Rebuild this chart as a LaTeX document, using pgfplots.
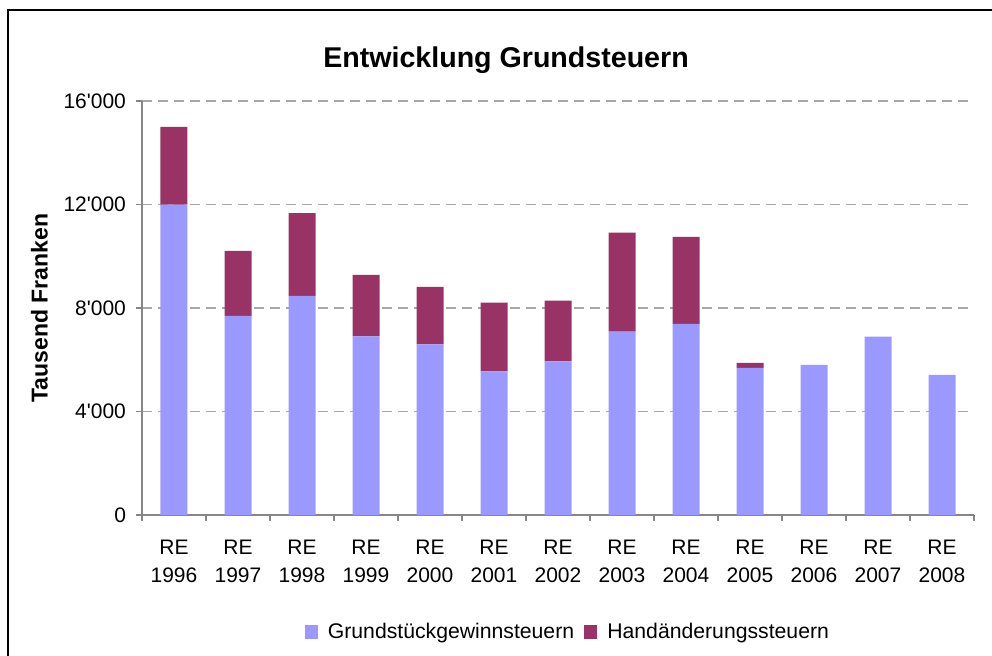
\documentclass[border=0pt]{standalone}
\usepackage{fontspec}
\setmainfont{Liberation Sans}
\usepackage{pgfplots}
\pgfplotsset{compat=1.18}
\definecolor{gblue}{HTML}{9999FF}
\definecolor{hred}{HTML}{993366}
\definecolor{axgray}{HTML}{868686}
\definecolor{gridgray}{HTML}{A6A6A6}
\begin{document}
\begin{tikzpicture}
\useasboundingbox (0,0) rectangle (496pt,-327.5pt);
\begin{scope}
\clip (0,0) rectangle (496pt,-327.5pt);
\draw[line width=1.2pt] (4pt,-400pt) -- (4pt,-5pt) -- (600pt,-5pt);
\end{scope}
\node[font=\fontsize{14.3}{17}\selectfont\bfseries] at (253pt,-30pt) {Entwicklung Grundsteuern};
\begin{axis}[
  at={(71pt,-257.5pt)}, anchor=south west,
  scale only axis, width=416pt, height=207pt,
  xmin=-0.5, xmax=12.5, ymin=0, ymax=16000,
  ybar stacked, bar width=13.5pt,
  axis x line*=bottom, axis y line*=left,
  axis line style={axgray, line width=0.8pt, -},
  xtick={0,...,12},
  xticklabels={RE\\1996,RE\\1997,RE\\1998,RE\\1999,RE\\2000,RE\\2001,RE\\2002,RE\\2003,RE\\2004,RE\\2005,RE\\2006,RE\\2007,RE\\2008},
  x tick label style={align=center, font=\fontsize{10.5}{14}\selectfont, yshift=-6pt},
  minor xtick={-0.5,0.5,...,12.5},
  major x tick style={draw=none},
  minor x tick style={axgray, line width=0.8pt},
  tick align=outside,
  major tick length=3pt, minor tick length=3pt,
  ytick={0,4000,8000,12000,16000},
  y tick style={axgray, line width=0.8pt},
  y tick label style={font=\fontsize{10.5}{12}\selectfont, xshift=-1.5pt},
  /pgf/number format/assume math mode=true,
  /pgf/number format/1000 sep={\textquotesingle},
  scaled y ticks=false,
  ymajorgrids,
  grid style={gridgray, dashed, dash pattern=on 5pt off 3pt, line width=0.6pt},
  ylabel={Tausend Franken},
  ylabel style={font=\fontsize{11.5}{13}\selectfont\bfseries, yshift=1pt},
  legend columns=2,
  legend style={at={(0.513,-0.2826)}, anchor=center, draw=none, fill=none,
    font=\fontsize{10.6}{12}\selectfont, column sep=3pt},
  legend image code/.code={\fill[#1] (0pt,-3.3pt) rectangle (6.6pt,3.3pt);},
]
\addplot[fill=gblue, draw=none] coordinates {
(0,12000) (1,7700) (2,8470) (3,6900) (4,6590) (5,5550) (6,5940) (7,7090) (8,7390) (9,5690) (10,5800) (11,6890) (12,5420)};
\addlegendentry{Grundstückgewinnsteuern}
\addplot[fill=hred, draw=none] coordinates {
(0,3000) (1,2510) (2,3200) (3,2380) (4,2230) (5,2660) (6,2350) (7,3820) (8,3360) (9,190) (10,0) (11,0) (12,0)};
\addlegendentry{Handänderungssteuern}
\end{axis}
\end{tikzpicture}
\end{document}
